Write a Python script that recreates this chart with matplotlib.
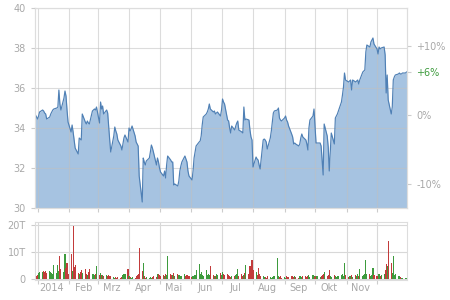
import matplotlib
matplotlib.use('Agg')
import matplotlib.pyplot as plt
import matplotlib.dates as mdates
import numpy as np
import pandas as pd

start_date = '2013-12-30'

# closing prices, one per trading day
prices = [
    34.65, 34.55, 34.45, 34.6, 34.8, 34.9, 34.85, 34.75, 34.7, 34.45,
    34.55, 34.7, 34.8, 34.9, 34.95, 35.0, 35.05, 35.9, 35.2, 34.9,
    35.5, 35.85, 35.6, 34.9, 34.3, 33.8, 34.15, 33.8, 33.4, 33.0,
    32.7, 33.5, 33.45, 33.4, 34.7, 34.3, 34.2, 34.35, 34.25, 34.2,
    34.85, 34.9, 34.95, 34.9, 35.05, 34.25, 35.3, 34.95, 35.1, 34.7,
    34.9, 34.75, 34.05, 33.4, 32.8, 33.6, 34.05, 33.85, 33.7, 33.4,
    33.1, 32.9, 33.2, 33.5, 33.65, 33.3, 34.0, 33.85, 33.95, 34.1,
    33.6, 33.3, 33.2, 33.1, 31.6, 30.3, 32.5, 32.3, 32.15, 32.35,
    32.5, 32.8, 33.15, 33.0, 32.8, 32.15, 32.5, 32.3, 32.0, 31.8,
    31.6, 31.85, 31.5, 32.15, 32.6, 32.4, 32.3, 32.3, 31.15, 31.2,
    31.1, 31.35, 31.85, 32.1, 32.3, 32.6, 32.45, 32.3, 31.85, 31.6,
    31.4, 31.85, 32.5, 32.8, 33.1, 33.3, 33.35, 33.6, 34.15, 34.55,
    34.7, 34.8, 34.95, 35.2, 34.95, 34.8, 34.85, 34.7, 34.75, 34.8,
    34.6, 34.9, 35.45, 35.3, 35.2, 34.4, 34.35, 34.0, 33.75, 34.1,
    33.9, 34.1, 34.25, 34.35, 33.9, 33.8, 33.75, 35.05, 34.4, 34.45,
    34.4, 33.9, 33.55, 33.4, 32.05, 32.55, 32.45, 32.4, 32.15, 31.95,
    33.4, 33.45, 33.4, 33.3, 32.95, 33.5, 33.85, 34.3, 34.75, 34.85,
    34.9, 35.0, 34.5, 34.4, 34.35, 34.5, 34.6, 34.4, 34.3, 34.1,
    33.7, 33.55, 33.2, 33.25, 33.2, 33.1, 33.2, 33.5, 33.7, 33.55,
    33.4, 33.2, 32.9, 34.0, 34.4, 34.6, 34.95, 34.1, 33.25, 33.25,
    33.25, 33.1, 32.35, 31.65, 34.2, 33.6, 33.05, 31.85, 32.85, 33.75,
    33.2, 34.5, 34.6, 34.7, 34.85, 35.3, 35.65, 36.05, 36.75, 36.4,
    36.3, 36.35, 36.4, 35.9, 36.4, 36.3, 36.35, 36.4, 36.2, 36.4,
    36.8, 36.85, 36.9, 37.8, 38.15, 38.05, 38.3, 38.4, 38.5, 38.2,
    37.95, 37.7, 38.05, 37.95, 38.0, 38.05, 37.65, 35.75, 36.65, 35.4,
    34.7, 35.05, 36.4, 36.55, 36.65, 36.7, 36.75, 36.7, 36.7, 36.75,
    36.75, 36.8,
]

# daily volume in thousands
volumes = [
    1.2, 1.0, 1.6, 2.2, 2.8, 2.5, 3.0, 2.6, 2.9, 2.4,
    3.1, 2.7, 2.3, 2.0, 5.3, 2.4, 5.3, 3.1, 8.6, 3.6,
    2.5, 9.3, 4.2, 5.9, 2.0, 9.2, 3.0, 19.6, 4.5, 5.3,
    2.2, 1.8, 2.5, 3.4, 2.4, 3.7, 2.0, 1.5, 2.6, 3.7,
    1.9, 2.0, 1.4, 1.8, 4.9, 1.6, 2.1, 1.4, 1.6, 1.2,
    1.5, 1.3, 1.4, 1.2, 1.0, 0.8, 0.6, 0.7, 0.6, 0.8,
    0.5, 0.9, 1.5, 2.0, 2.0, 3.8, 1.0, 0.8, 0.4, 0.9,
    0.6, 1.0, 1.4, 2.0, 11.3, 3.0, 5.9, 1.0, 0.5, 0.8,
    0.6, 0.9, 0.5, 0.8, 1.3, 0.9, 1.8, 2.0, 1.6, 1.0,
    1.4, 1.2, 1.9, 1.5, 8.6, 1.8, 1.4, 1.7, 2.2, 1.2,
    1.9, 1.5, 1.7, 1.0, 1.3, 2.0, 1.2, 1.5, 0.9, 1.1,
    0.7, 1.2, 1.5, 1.4, 3.4, 5.6, 1.8, 2.5, 1.6, 1.3,
    3.4, 1.5, 1.9, 1.7, 4.7, 1.6, 1.0, 1.3, 1.8, 1.5,
    2.2, 1.6, 2.5, 1.9, 1.4, 2.0, 1.5, 1.0, 0.8, 1.2,
    1.0, 1.4, 1.9, 3.7, 1.2, 1.8, 1.0, 1.6, 2.3, 5.3,
    1.8, 4.9, 2.8, 6.9, 3.2, 2.5, 1.5, 4.0, 2.0, 1.0,
    1.3, 0.9, 0.8, 0.6, 1.0, 0.8, 0.5, 0.9, 1.2, 1.0,
    7.7, 1.2, 0.8, 1.0, 0.6, 0.9, 0.5, 1.2, 0.9, 0.7,
    1.0, 1.3, 0.8, 1.1, 0.9, 0.6, 1.2, 1.0, 0.7, 1.3,
    1.0, 0.8, 1.2, 1.5, 0.9, 1.4, 1.1, 0.8, 1.0, 1.3,
    0.9, 1.2, 1.5, 1.8, 2.5, 1.0, 1.4, 3.2, 1.2, 0.9,
    1.5, 1.1, 0.8, 1.3, 1.0, 1.5, 2.0, 1.2, 5.9, 1.5,
    0.8, 1.2, 1.0, 1.6, 0.9, 1.4, 1.2, 1.8, 1.3, 3.7,
    1.0, 1.5, 2.0, 6.9, 1.8, 2.0, 1.2, 1.5, 4.0, 1.4,
    1.0, 1.3, 2.0, 1.2, 1.6, 1.8, 3.4, 5.5, 4.8, 13.9,
    5.9, 2.2, 8.6, 1.5, 2.0, 1.0, 1.2, 0.8, 0.5, 0.4,
    0.6, 0.3,
]

month_labels = ['2014', 'Feb', 'Mrz', 'Apr', 'Mai', 'Jun', 'Jul', 'Aug', 'Sep', 'Okt', 'Nov']
price_ticks = [30, 32, 34, 36, 38, 40]
pct_ticks = [10, 0, -10]
vol_ticks = [0, 10, 20]
vol_labels = ['0', '10T', '20T']

TXT = '#a8a8a8'
GRID = '#d8d8d8'
UP = '#3d9b3d'
DOWN = '#c23b3b'


def style(ax):
    for s in ax.spines.values():
        s.set_color('#dddddd')
        s.set_linewidth(0.8)
    ax.tick_params(colors='#cccccc', labelcolor=TXT, labelsize=7, length=3, width=0.8)


def main():
    plt.rcParams['font.family'] = ['DejaVu Sans']
    dates = pd.bdate_range(start_date, periods=len(prices))
    x = mdates.date2num(dates)
    p = np.array(prices)
    v = np.array(volumes)

    month_starts = mdates.date2num(pd.date_range('2014-01-01', '2014-12-01', freq='MS'))
    month_mids = mdates.date2num(pd.date_range('2014-01-01', periods=len(month_labels), freq='MS') + pd.Timedelta(days=14))

    fig = plt.figure(figsize=(4.5, 3), dpi=100)
    fig.patch.set_facecolor('white')

    # price panel
    ax = fig.add_axes([35 / 450, 1 - 208 / 300, 372 / 450, 200 / 300])
    ax.fill_between(x, p, 30, color='#a6c3e1', lw=0, zorder=1)
    ax.plot(x, p, color='#4f80b5', lw=0.85, zorder=2)
    ax.set_xlim(x[0] - 0.5, x[-1] + 0.5)
    ax.set_ylim(30, 40)
    ax.set_yticks(price_ticks)
    ax.set_xticks(month_starts)
    ax.set_xticklabels([])
    ax.tick_params(axis='x', length=0)
    ax.set_axisbelow('line')
    ax.grid(True, color='#c0c0c0', alpha=0.55, lw=0.8)
    style(ax)

    # percent axis relative to first close
    base = p[0]
    last_pct = (p[-1] / base - 1) * 100
    ax2 = ax.twinx()
    ax2.set_ylim(30, 40)
    ax2.set_yticks([base * (1 + t / 100) for t in pct_ticks] + [p[-1]])
    ax2.set_yticklabels(['+%d%%' % t if t > 0 else '%d%%' % t for t in pct_ticks] + ['%+.0f%%' % last_pct])
    style(ax2)
    ax2.get_yticklabels()[-1].set_color(UP)
    ax2.yaxis.get_major_ticks()[-1].tick2line.set_color(UP)

    # volume panel
    axv = fig.add_axes([35 / 450, 1 - 280 / 300, 372 / 450, 58 / 300])
    up = np.r_[True, p[1:] >= p[:-1]]
    cols = np.where(up, UP, DOWN)
    axv.bar(x, v, width=1.1, color=cols, lw=0, zorder=2)
    axv.set_xlim(ax.get_xlim())
    axv.set_ylim(-0.3, 21)
    axv.set_yticks(vol_ticks)
    axv.set_yticklabels(vol_labels)
    axv.set_xticks(month_starts)
    axv.set_xticklabels([])
    axv.set_xticks(month_mids, minor=True)
    axv.set_xticklabels(month_labels, minor=True)
    axv.tick_params(axis='x', which='both', length=0, pad=2)
    axv.grid(True, color=GRID, lw=0.8)
    axv.set_axisbelow(True)
    style(axv)
    axv.tick_params(axis='x', which='minor', labelcolor=TXT, labelsize=7)

    plt.savefig('out.png', dpi=100, facecolor='white')


if __name__ == '__main__':
    main()
